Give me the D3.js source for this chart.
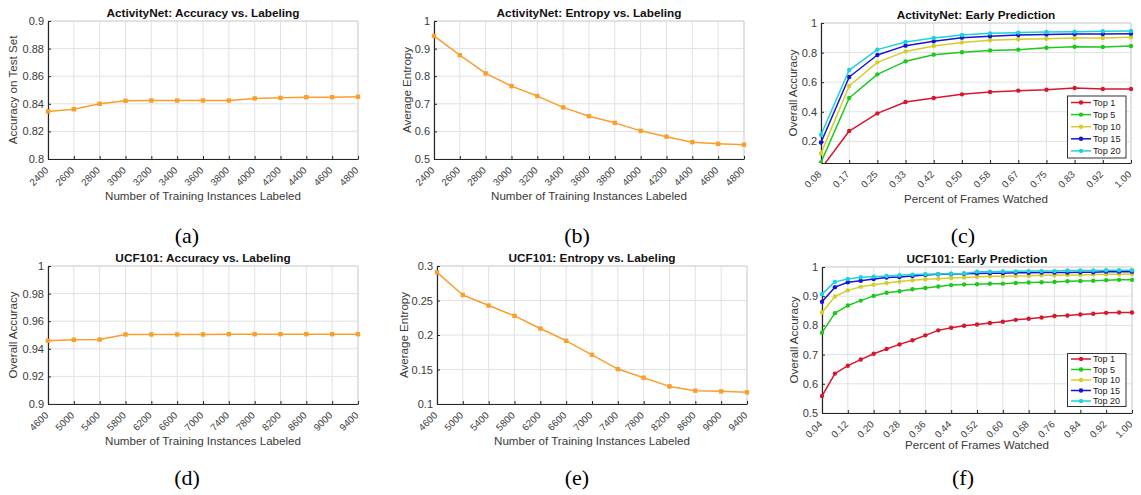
<!DOCTYPE html>
<html>
<head>
<meta charset="utf-8">
<script src="https://cdn.jsdelivr.net/npm/d3@7"></script>
<style>
  html, body { margin: 0; padding: 0; background: #ffffff; }
  svg { display: block; }
</style>
</head>
<body>
<svg id="chart" width="1141" height="495"></svg>
<script>
// ---------------- DATA ----------------
const actLabelCounts = [2400, 2600, 2800, 3000, 3200, 3400, 3600, 3800, 4000, 4200, 4400, 4600, 4800];
const actAccuracy = [0.8345, 0.8361, 0.8400, 0.8422, 0.8424, 0.8424, 0.8424, 0.8424, 0.8439, 0.8443, 0.8448, 0.8448, 0.8451];
const actEntropy = [0.946, 0.876, 0.810, 0.764, 0.728, 0.687, 0.655, 0.631, 0.602, 0.581, 0.561, 0.555, 0.552];

const ucfLabelCounts = [4600, 5000, 5400, 5800, 6200, 6600, 7000, 7400, 7800, 8200, 8600, 9000, 9400];
const ucfAccuracy = [0.9458, 0.9465, 0.9467, 0.9504, 0.9504, 0.9504, 0.9504, 0.9506, 0.9506, 0.9506, 0.9506, 0.9506, 0.9506];
const ucfEntropy = [0.2908, 0.2580, 0.2427, 0.2277, 0.2094, 0.1916, 0.1713, 0.1506, 0.1381, 0.1255, 0.1193, 0.1183, 0.1169];

const seriesNames = ["Top 1", "Top 5", "Top 10", "Top 15", "Top 20"];

const actFrames = [0.0833, 0.1667, 0.25, 0.3333, 0.4167, 0.5, 0.5833, 0.6667, 0.75, 0.8333, 0.9167, 1.0];
const actFrameLabels = ["0.08", "0.17", "0.25", "0.33", "0.42", "0.50", "0.58", "0.67", "0.75", "0.83", "0.92", "1.00"];
const actTop1  = [0.015, 0.270, 0.389, 0.466, 0.493, 0.518, 0.534, 0.543, 0.549, 0.561, 0.554, 0.554];
const actTop5  = [0.058, 0.493, 0.653, 0.741, 0.786, 0.802, 0.815, 0.820, 0.833, 0.840, 0.838, 0.845];
const actTop10 = [0.119, 0.574, 0.734, 0.808, 0.845, 0.869, 0.883, 0.890, 0.894, 0.899, 0.899, 0.903];
const actTop15 = [0.193, 0.635, 0.784, 0.847, 0.876, 0.901, 0.910, 0.919, 0.923, 0.926, 0.926, 0.928];
const actTop20 = [0.245, 0.682, 0.820, 0.872, 0.899, 0.919, 0.930, 0.935, 0.939, 0.941, 0.944, 0.946];

const ucfFrames = [0.04, 0.08, 0.12, 0.16, 0.20, 0.24, 0.28, 0.32, 0.36, 0.40, 0.44, 0.48, 0.52,
                   0.56, 0.60, 0.64, 0.68, 0.72, 0.76, 0.80, 0.84, 0.88, 0.92, 0.96, 1.00];
const ucfFrameTicks = [0.04, 0.12, 0.20, 0.28, 0.36, 0.44, 0.52, 0.60, 0.68, 0.76, 0.84, 0.92, 1.00];
const ucfFrameLabels = ["0.04", "0.12", "0.20", "0.28", "0.36", "0.44", "0.52", "0.60", "0.68", "0.76", "0.84", "0.92", "1.00"];
const ucfTop1  = [0.558, 0.635, 0.662, 0.683, 0.703, 0.719, 0.735, 0.749, 0.766, 0.783, 0.792, 0.799, 0.803,
                  0.808, 0.8125, 0.819, 0.823, 0.827, 0.832, 0.834, 0.8375, 0.840, 0.843, 0.844, 0.844];
const ucfTop5  = [0.775, 0.842, 0.868, 0.885, 0.901, 0.912, 0.917, 0.924, 0.928, 0.933, 0.938, 0.940, 0.941,
                  0.943, 0.943, 0.945, 0.947, 0.948, 0.949, 0.951, 0.952, 0.953, 0.955, 0.956, 0.956];
const ucfTop10 = [0.844, 0.899, 0.920, 0.932, 0.939, 0.945, 0.950, 0.955, 0.958, 0.960, 0.9625, 0.964, 0.966,
                  0.968, 0.968, 0.969, 0.970, 0.972, 0.972, 0.973, 0.973, 0.974, 0.975, 0.975, 0.976];
const ucfTop15 = [0.881, 0.931, 0.948, 0.953, 0.959, 0.964, 0.966, 0.969, 0.973, 0.975, 0.976, 0.977, 0.978,
                  0.979, 0.979, 0.980, 0.980, 0.981, 0.981, 0.981, 0.982, 0.982, 0.984, 0.984, 0.984];
const ucfTop20 = [0.907, 0.949, 0.959, 0.965, 0.967, 0.969, 0.972, 0.974, 0.975, 0.976, 0.977, 0.978, 0.984,
                  0.984, 0.985, 0.985, 0.986, 0.986, 0.986, 0.988, 0.988, 0.988, 0.989, 0.989, 0.989];

const actLabelTicks = [2400, 2600, 2800, 3000, 3200, 3400, 3600, 3800, 4000, 4200, 4400, 4600, 4800];
const ucfLabelTicks = [4600, 5000, 5400, 5800, 6200, 6600, 7000, 7400, 7800, 8200, 8600, 9000, 9400];
const aYTicks = [0.8, 0.82, 0.84, 0.86, 0.88, 0.9];
const aYLabels = ["0.8", "0.82", "0.84", "0.86", "0.88", "0.9"];
const bYTicks = [0.5, 0.6, 0.7, 0.8, 0.9, 1.0];
const bYLabels = ["0.5", "0.6", "0.7", "0.8", "0.9", "1"];
const cYTicks = [0.2, 0.4, 0.6, 0.8, 1.0];
const cYLabels = ["0.2", "0.4", "0.6", "0.8", "1"];
const dYTicks = [0.9, 0.92, 0.94, 0.96, 0.98, 1.0];
const dYLabels = ["0.9", "0.92", "0.94", "0.96", "0.98", "1"];
const eYTicks = [0.1, 0.15, 0.2, 0.25, 0.3];
const eYLabels = ["0.1", "0.15", "0.2", "0.25", "0.3"];
const fYTicks = [0.5, 0.6, 0.7, 0.8, 0.9, 1.0];
const fYLabels = ["0.5", "0.6", "0.7", "0.8", "0.9", "1"];

// ---------------- STYLE ----------------
const ORANGE = "#f99f2e";
const seriesColors = ["#d6172c", "#1ec81e", "#d3cf2a", "#1414d4", "#1ed2db"];
const FONT = "'Liberation Sans', Arial, Helvetica, sans-serif";
const TXT = "#3a3a3a";
const GRID = "#e2e2e2";
const AXIS = "#262626";

const svg = d3.select("#chart");
svg.append("rect").attr("width", 1141).attr("height", 495).attr("fill", "#fff");

let clipId = 0;

function drawPanel(cfg) {
  const g = svg.append("g");
  const x = d3.scaleLinear().domain(cfg.xDomain).range([cfg.left, cfg.right]);
  const y = d3.scaleLinear().domain(cfg.yDomain).range([cfg.bottom, cfg.top]);

  // grid
  g.append("g").selectAll("line").data(cfg.xTicks).join("line")
    .attr("x1", d => x(d)).attr("x2", d => x(d))
    .attr("y1", cfg.top).attr("y2", cfg.bottom)
    .attr("stroke", GRID).attr("stroke-width", 1);
  g.append("g").selectAll("line").data(cfg.yTicks).join("line")
    .attr("x1", cfg.left).attr("x2", cfg.right)
    .attr("y1", d => y(d)).attr("y2", d => y(d))
    .attr("stroke", GRID).attr("stroke-width", 1);
  // top / right box edges
  g.append("path")
    .attr("d", `M${cfg.left},${cfg.top}H${cfg.right}V${cfg.bottom}`)
    .attr("fill", "none").attr("stroke", "#d4d4d4").attr("stroke-width", 1);

  // axes
  const xAxis = d3.axisBottom(x).tickValues(cfg.xTicks)
    .tickFormat((d, i) => cfg.xLabels[i]).tickSize(-3).tickSizeOuter(0).tickPadding(0);
  const gx = g.append("g").attr("transform", `translate(0,${cfg.bottom})`).call(xAxis);
  gx.select(".domain").attr("stroke", AXIS).attr("stroke-width", 1.2);
  gx.selectAll(".tick line").attr("stroke", AXIS);
  gx.selectAll("text")
    .attr("x", 0).attr("y", 0).attr("dy", 0)
    .attr("transform", "translate(0.5,12) rotate(-45)")
    .attr("text-anchor", "end")
    .attr("fill", TXT)
    .style("font-family", FONT).style("font-size", "9.8px");

  const yAxis = d3.axisLeft(y).tickValues(cfg.yTicks)
    .tickFormat((d, i) => cfg.yLabels[i]).tickSize(-3).tickSizeOuter(0).tickPadding(4);
  const gy = g.append("g").attr("transform", `translate(${cfg.left},0)`).call(yAxis);
  gy.select(".domain").attr("stroke", AXIS).attr("stroke-width", 1.2);
  gy.selectAll(".tick line").attr("stroke", AXIS);
  gy.selectAll("text").attr("fill", TXT)
    .style("font-family", FONT).style("font-size", "11px");

  // clip
  const id = "clip" + (clipId++);
  svg.append("clipPath").attr("id", id).append("rect")
    .attr("x", cfg.left - 4).attr("y", cfg.top - 4)
    .attr("width", cfg.right - cfg.left + 8).attr("height", cfg.bottom - cfg.top + 4);
  const plot = g.append("g").attr("clip-path", `url(#${id})`);

  const line = d3.line().x(d => x(d[0])).y(d => y(d[1]));
  cfg.series.forEach(s => {
    const pts = s.xs.map((xv, i) => [xv, s.ys[i]]);
    plot.append("path").datum(pts).attr("d", line)
      .attr("fill", "none").attr("stroke", s.color).attr("stroke-width", 1.5)
      .attr("stroke-linejoin", "round");
    if (s.marker === "square") {
      plot.append("g").selectAll("rect").data(pts).join("rect")
        .attr("x", d => x(d[0]) - 2.2).attr("y", d => y(d[1]) - 2.2)
        .attr("width", 4.4).attr("height", 4.4).attr("fill", s.color);
    } else {
      plot.append("g").selectAll("circle").data(pts).join("circle")
        .attr("cx", d => x(d[0])).attr("cy", d => y(d[1]))
        .attr("r", 2.2).attr("fill", s.color);
    }
  });

  // title
  g.append("text").attr("x", (cfg.left + cfg.right) / 2).attr("y", cfg.top - 4)
    .attr("text-anchor", "middle").attr("fill", "#111")
    .style("font-family", FONT).style("font-size", "11.8px").style("font-weight", "bold")
    .text(cfg.title);
  // x label
  g.append("text").attr("x", (cfg.left + cfg.right) / 2).attr("y", cfg.bottom + cfg.xLabelOffset)
    .attr("text-anchor", "middle").attr("fill", TXT)
    .style("font-family", FONT).style("font-size", "11.6px")
    .text(cfg.xLabel);
  // y label
  g.append("text")
    .attr("transform", `translate(${cfg.left - cfg.yLabelOffset},${(cfg.top + cfg.bottom) / 2}) rotate(-90)`)
    .attr("text-anchor", "middle").attr("dy", "0.35em").attr("fill", TXT)
    .style("font-family", FONT).style("font-size", "11.6px")
    .text(cfg.yLabel);
  // sub label
  g.append("text").attr("x", cfg.subX).attr("y", cfg.subY)
    .attr("text-anchor", "middle").attr("fill", "#000")
    .style("font-family", "'Liberation Serif', 'Times New Roman', serif").style("font-size", "22px")
    .text(cfg.sub);

  // legend
  if (cfg.legend) {
    const L = cfg.legend;
    const lg = g.append("g");
    lg.append("rect").attr("x", L.x).attr("y", L.y).attr("width", L.w).attr("height", L.h)
      .attr("fill", "#fff").attr("stroke", "#333").attr("stroke-width", 1);
    cfg.series.forEach((s, i) => {
      const cy = L.y + L.pad + i * L.step;
      lg.append("line").attr("x1", L.x + 3.5).attr("x2", L.x + 23.5).attr("y1", cy).attr("y2", cy)
        .attr("stroke", s.color).attr("stroke-width", 1.5);
      lg.append("circle").attr("cx", L.x + 13.5).attr("cy", cy).attr("r", 2.2).attr("fill", s.color);
      lg.append("text").attr("x", L.x + 25.5).attr("y", cy).attr("dy", "0.35em")
        .attr("fill", "#222").style("font-family", FONT).style("font-size", L.font + "px")
        .text(s.name);
    });
  }
}

const actTops = [actTop1, actTop5, actTop10, actTop15, actTop20];
const ucfTops = [ucfTop1, ucfTop5, ucfTop10, ucfTop15, ucfTop20];

// (a)
drawPanel({
  left: 48, right: 358, top: 21, bottom: 159,
  xDomain: [2400, 4800], yDomain: [0.8, 0.9],
  xTicks: actLabelTicks, xLabels: actLabelTicks.map(String),
  yTicks: aYTicks, yLabels: aYLabels,
  series: [{ xs: actLabelCounts, ys: actAccuracy, color: ORANGE, marker: "square" }],
  title: "ActivityNet: Accuracy vs. Labeling",
  xLabel: "Number of Training Instances Labeled", xLabelOffset: 41,
  yLabel: "Accuracy on Test Set", yLabelOffset: 35,
  sub: "(a)", subX: 187, subY: 243
});
// (b)
drawPanel({
  left: 434, right: 744, top: 21, bottom: 159,
  xDomain: [2400, 4800], yDomain: [0.5, 1.0],
  xTicks: actLabelTicks, xLabels: actLabelTicks.map(String),
  yTicks: bYTicks, yLabels: bYLabels,
  series: [{ xs: actLabelCounts, ys: actEntropy, color: ORANGE, marker: "square" }],
  title: "ActivityNet: Entropy vs. Labeling",
  xLabel: "Number of Training Instances Labeled", xLabelOffset: 41,
  yLabel: "Average Entropy", yLabelOffset: 27,
  sub: "(b)", subX: 577, subY: 243
});
// (c)
drawPanel({
  left: 821, right: 1131, top: 23, bottom: 163,
  xDomain: [actFrames[0], 1.0], yDomain: [0.054, 1.0],
  xTicks: actFrames, xLabels: actFrameLabels,
  yTicks: cYTicks, yLabels: cYLabels,
  series: seriesNames.map((n, i) => ({ name: n, xs: actFrames, ys: actTops[i], color: seriesColors[i], marker: "dot" })),
  title: "ActivityNet: Early Prediction",
  xLabel: "Percent of Frames Watched", xLabelOffset: 40,
  yLabel: "Overall Accuracy", yLabelOffset: 28,
  sub: "(c)", subX: 963, subY: 243,
  legend: { x: 1067.5, y: 96, w: 58.5, h: 62, pad: 6.5, step: 12.1, font: 9.2 }
});
// (d)
drawPanel({
  left: 48, right: 358, top: 266, bottom: 404,
  xDomain: [4600, 9400], yDomain: [0.9, 1.0],
  xTicks: ucfLabelTicks, xLabels: ucfLabelTicks.map(String),
  yTicks: dYTicks, yLabels: dYLabels,
  series: [{ xs: ucfLabelCounts, ys: ucfAccuracy, color: ORANGE, marker: "square" }],
  title: "UCF101: Accuracy vs. Labeling",
  xLabel: "Number of Training Instances Labeled", xLabelOffset: 41,
  yLabel: "Overall Accuracy", yLabelOffset: 35,
  sub: "(d)", subX: 187, subY: 485
});
// (e)
drawPanel({
  left: 437, right: 747, top: 266, bottom: 404,
  xDomain: [4600, 9400], yDomain: [0.1, 0.3],
  xTicks: ucfLabelTicks, xLabels: ucfLabelTicks.map(String),
  yTicks: eYTicks, yLabels: eYLabels,
  series: [{ xs: ucfLabelCounts, ys: ucfEntropy, color: ORANGE, marker: "square" }],
  title: "UCF101: Entropy vs. Labeling",
  xLabel: "Number of Training Instances Labeled", xLabelOffset: 41,
  yLabel: "Average Entropy", yLabelOffset: 33,
  sub: "(e)", subX: 577, subY: 485
});
// (f)
drawPanel({
  left: 822, right: 1132, top: 267, bottom: 413,
  xDomain: [0.04, 1.0], yDomain: [0.5, 1.0],
  xTicks: ucfFrameTicks, xLabels: ucfFrameLabels,
  yTicks: fYTicks, yLabels: fYLabels,
  series: seriesNames.map((n, i) => ({ name: n, xs: ucfFrames, ys: ucfTops[i], color: seriesColors[i], marker: "dot" })),
  title: "UCF101: Early Prediction",
  xLabel: "Percent of Frames Watched", xLabelOffset: 36,
  yLabel: "Overall Accuracy", yLabelOffset: 28,
  sub: "(f)", subX: 963, subY: 485,
  legend: { x: 1067.5, y: 353.5, w: 58.5, h: 53, pad: 5.5, step: 10.5, font: 9 }
});
</script>
</body>
</html>
